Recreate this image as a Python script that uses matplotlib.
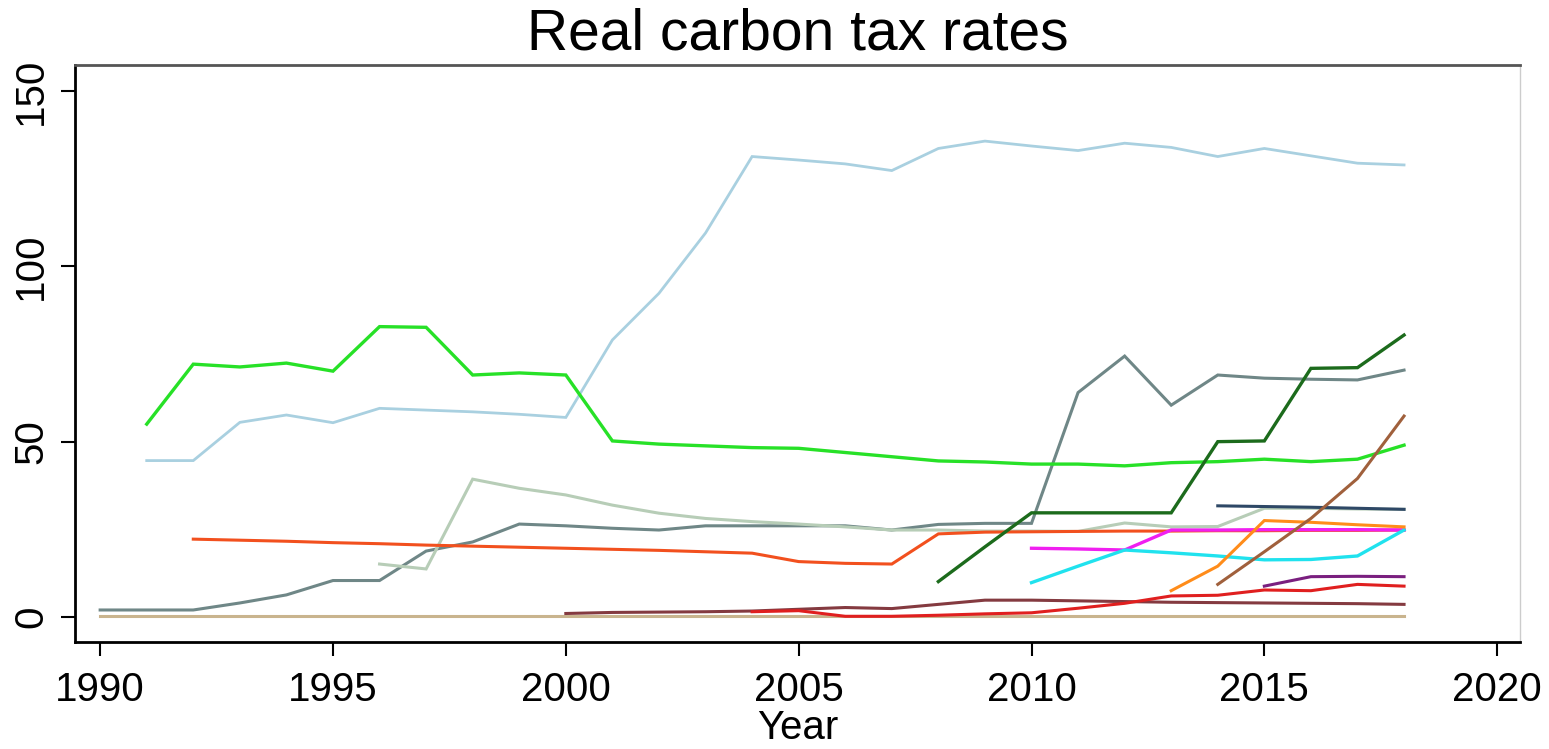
import numpy as np
import matplotlib.pyplot as plt

plt.rcParams['font.family'] = ['Liberation Sans', 'DejaVu Sans']

# real carbon tax rates by scheme, read per year
yr_tan = list(range(1990, 2019))
tan = [0.3, 0.3, 0.3, 0.3, 0.3, 0.3, 0.3, 0.3, 0.3, 0.3, 0.3, 0.3, 0.3, 0.3, 0.3,
       0.3, 0.3, 0.3, 0.3, 0.3, 0.3, 0.3, 0.3, 0.3, 0.3, 0.3, 0.3, 0.3, 0.3]

yr_lblue = list(range(1991, 2019))
lblue = [44.6, 44.6, 55.5, 57.6, 55.4, 59.5, 59.0, 58.5, 57.8, 56.9, 79.0, 92.3,
         109.5, 131.3, 130.3, 129.2, 127.3, 133.6, 135.7, 134.3, 133.0, 135.1,
         133.9, 131.3, 133.6, 131.5, 129.4, 128.9]

yr_green = list(range(1991, 2019))
green = [55.0, 72.1, 71.3, 72.4, 70.1, 82.8, 82.6, 69.0, 69.6, 69.0, 50.2, 49.3,
         48.8, 48.3, 48.1, 46.9, 45.7, 44.5, 44.2, 43.6, 43.6, 43.1, 44.0, 44.3,
         45.0, 44.3, 45.0, 49.0]

yr_slate = list(range(1990, 2019))
slate = [2.0, 2.0, 2.0, 4.0, 6.3, 10.4, 10.4, 18.8, 21.4, 26.5, 26.0, 25.3, 24.8,
         26.0, 26.0, 26.0, 26.0, 24.8, 26.4, 26.7, 26.7, 64.0, 74.4, 60.4, 69.0,
         68.1, 67.8, 67.6, 70.4]

yr_sage = list(range(1996, 2019))
sage = [15.1, 13.7, 39.3, 36.7, 34.8, 31.9, 29.6, 28.1, 27.2, 26.5, 25.7, 24.8,
        24.8, 24.5, 24.5, 24.4, 26.8, 25.7, 25.8, 31.0, 31.0, 30.8, 30.7]

yr_ored = list(range(1992, 2019))
ored = [22.2, 21.9, 21.6, 21.2, 20.9, 20.5, 20.2, 19.9, 19.6, 19.3, 19.0, 18.6,
        18.2, 15.8, 15.3, 15.1, 23.7, 24.2, 24.3, 24.4, 24.5, 24.5, 24.6, 24.6,
        24.7, 24.7, 24.8]

yr_maroon = list(range(2000, 2019))
maroon = [1.0, 1.3, 1.4, 1.5, 1.7, 2.2, 2.7, 2.4, 3.6, 4.8, 4.8, 4.6, 4.4, 4.2,
          4.1, 4.0, 3.9, 3.8, 3.6]

yr_red = list(range(2004, 2019))
red = [1.5, 1.8, 0.2, 0.2, 0.5, 0.9, 1.2, 2.5, 3.9, 6.0, 6.2, 7.7, 7.5, 9.3, 8.8]

yr_dgreen = list(range(2008, 2019))
dgreen = [10.1, 20.0, 29.7, 29.7, 29.7, 29.7, 50.0, 50.2, 70.9, 71.1, 80.4]

yr_navy = list(range(2014, 2019))
navy = [31.7, 31.5, 31.3, 31.0, 30.7]

yr_magenta = list(range(2010, 2019))
magenta = [19.6, 19.4, 19.1, 24.8, 24.8, 24.9, 24.9, 24.9, 24.8]

yr_cyan = list(range(2010, 2019))
cyan = [9.8, 14.5, 19.1, 18.3, 17.4, 16.3, 16.4, 17.4, 24.8]

yr_orange = list(range(2013, 2019))
orange = [7.5, 14.5, 27.5, 27.0, 26.3, 25.7]

yr_brown = list(range(2014, 2019))
brown = [9.3, 18.6, 28.1, 39.5, 57.3]

yr_purple = list(range(2015, 2019))
purple = [8.8, 11.5, 11.6, 11.5]

xticks = [1990, 1995, 2000, 2005, 2010, 2015, 2020]
yticks = [0, 50, 100, 150]

series = [
    (yr_tan, tan, '#c9b48e', 2.2),
    (yr_lblue, lblue, '#a9d0e0', 2.0),
    (yr_slate, slate, '#6f8787', 2.2),
    (yr_sage, sage, '#b7cdb7', 2.2),
    (yr_green, green, '#27e127', 2.4),
    (yr_ored, ored, '#f2501e', 2.2),
    (yr_maroon, maroon, '#843a40', 2.2),
    (yr_red, red, '#e01f1f', 2.2),
    (yr_dgreen, dgreen, '#1c6b1c', 2.4),
    (yr_navy, navy, '#2e4866', 2.2),
    (yr_magenta, magenta, '#f01ff0', 2.4),
    (yr_cyan, cyan, '#20e2ee', 2.4),
    (yr_orange, orange, '#ff8c1a', 2.2),
    (yr_brown, brown, '#a0603c', 2.2),
    (yr_purple, purple, '#7a1f7f', 2.2),
]

fig = plt.figure(figsize=(15.49, 7.49), dpi=100)
ax = fig.add_axes([75 / 1549, 1 - 642 / 749, 1445 / 1549, 577 / 749])

for xs, ys, col, lw in series:
    ax.plot(xs, ys, color=col, lw=lw, solid_joinstyle='miter')

ax.set_xlim(1989.46, 2020.49)
ax.set_ylim(-7.13, 157.4)
ax.set_xticks(xticks)
ax.set_yticks(yticks)
ax.tick_params(axis='both', direction='out', length=10, width=1.5,
               labelsize=29)
ax.tick_params(axis='x', pad=11)
ax.tick_params(axis='y', pad=8)
for lab in ax.get_yticklabels():
    lab.set_rotation(90)
    lab.set_va('center')

for side in ['left', 'bottom']:
    ax.spines[side].set_linewidth(2)
    ax.spines[side].set_color('black')
ax.spines['top'].set_linewidth(2)
ax.spines['top'].set_color('#555555')
ax.spines['right'].set_linewidth(1)
ax.spines['right'].set_color('#cccccc')

ax.set_xlabel('Year', fontsize=29, labelpad=0)
ax.set_title('Real carbon tax rates', fontsize=41, pad=11)

fig.savefig('out.png', dpi=100)
